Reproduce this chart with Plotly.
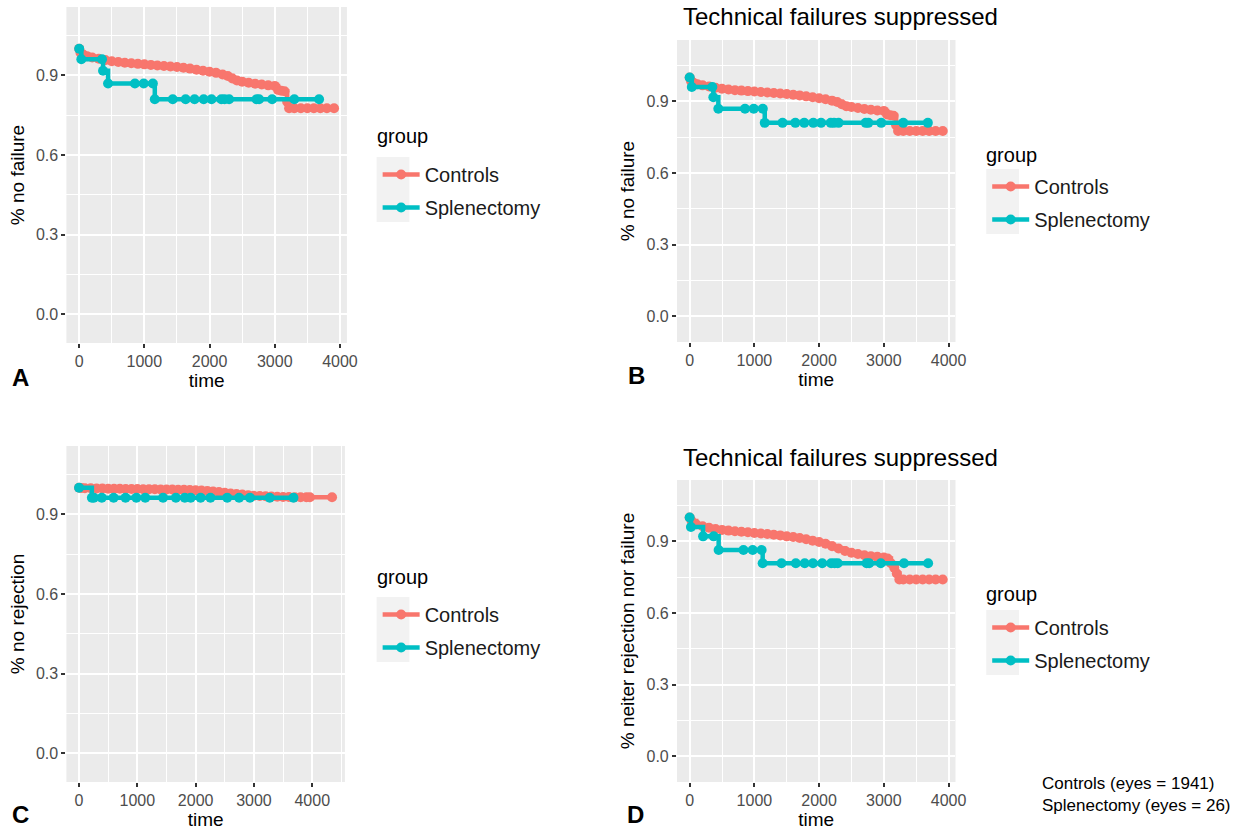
import plotly.graph_objects as go

W, H = 1247, 832

groups = ["Controls", "Splenectomy"]
colors = ["#F8766D", "#00BFC4"]
x_ticks = [0, 1000, 2000, 3000, 4000]
y_ticks = [0.0, 0.3, 0.6, 0.9]
y_tick_labels = ["0.0", "0.3", "0.6", "0.9"]

# Panels A & B: % no failure  (time, survival)
ctrl_fail = [(0, 1.0), (20, 0.985), (60, 0.978), (120, 0.972), (200, 0.967), (300, 0.962),
             (400, 0.957), (500, 0.953), (600, 0.950), (700, 0.947), (800, 0.945), (900, 0.943),
             (1000, 0.941), (1100, 0.939), (1200, 0.937), (1300, 0.935), (1400, 0.933),
             (1500, 0.931), (1600, 0.928), (1700, 0.925), (1800, 0.921), (1900, 0.917),
             (2000, 0.913), (2100, 0.909), (2200, 0.903), (2280, 0.897), (2350, 0.888),
             (2420, 0.880), (2500, 0.876), (2600, 0.872), (2700, 0.868), (2800, 0.865),
             (2900, 0.862), (3000, 0.860), (3050, 0.845), (3100, 0.842), (3150, 0.840),
             (3190, 0.800), (3220, 0.776), (3300, 0.776), (3400, 0.776), (3500, 0.776),
             (3600, 0.776), (3700, 0.776), (3800, 0.776), (3910, 0.776)]
splen_fail = [(0, 1.0), (33, 0.96), (350, 0.96), (366, 0.917), (443, 0.869), (855, 0.869),
              (990, 0.869), (1130, 0.869), (1160, 0.81), (1435, 0.81), (1633, 0.81),
              (1770, 0.81), (1910, 0.81), (2030, 0.81), (2180, 0.81), (2230, 0.81),
              (2300, 0.81), (2720, 0.81), (2760, 0.81), (2960, 0.81), (3300, 0.81), (3680, 0.81)]

# Panel C: % no rejection
ctrl_rej = [(0, 1.0), (40, 0.999), (100, 0.998), (200, 0.998), (300, 0.997), (400, 0.997),
            (500, 0.996), (600, 0.996), (700, 0.996), (800, 0.995), (900, 0.995), (1000, 0.995),
            (1100, 0.994), (1200, 0.994), (1300, 0.994), (1400, 0.993), (1500, 0.993),
            (1600, 0.993), (1700, 0.992), (1800, 0.992), (1900, 0.991), (2000, 0.990),
            (2100, 0.989), (2200, 0.988), (2300, 0.986), (2400, 0.984), (2500, 0.981),
            (2600, 0.978), (2700, 0.976), (2800, 0.974), (2900, 0.972), (3000, 0.970),
            (3100, 0.969), (3200, 0.968), (3300, 0.967), (3400, 0.966), (3500, 0.965),
            (3600, 0.965), (3700, 0.964), (3800, 0.964), (3900, 0.964), (3960, 0.964),
            (4340, 0.964)]
splen_rej = [(0, 1.0), (220, 0.962), (254, 0.962), (390, 0.962), (593, 0.962), (797, 0.962),
             (983, 0.962), (1136, 0.962), (1441, 0.962), (1661, 0.962), (1814, 0.962),
             (1915, 0.962), (2085, 0.962), (2254, 0.962), (2542, 0.962), (2746, 0.962),
             (2932, 0.962), (3271, 0.962), (3678, 0.962)]

# Panel D: % neither rejection nor failure
ctrl_any = [(0, 1.0), (30, 0.985), (100, 0.972), (200, 0.963), (300, 0.957), (400, 0.952),
            (500, 0.948), (600, 0.945), (700, 0.942), (800, 0.940), (900, 0.938), (1000, 0.935),
            (1100, 0.933), (1200, 0.931), (1300, 0.928), (1400, 0.925), (1500, 0.921),
            (1600, 0.918), (1700, 0.914), (1800, 0.909), (1900, 0.903), (2000, 0.897),
            (2100, 0.890), (2200, 0.880), (2300, 0.870), (2400, 0.860), (2500, 0.852),
            (2600, 0.847), (2700, 0.842), (2800, 0.838), (2900, 0.835), (3000, 0.832),
            (3060, 0.828), (3110, 0.808), (3160, 0.790), (3200, 0.765), (3240, 0.740),
            (3300, 0.740), (3400, 0.740), (3500, 0.740), (3600, 0.740), (3700, 0.740),
            (3800, 0.740), (3910, 0.740)]
splen_any = [(0, 1.0), (20, 0.96), (207, 0.921), (371, 0.921), (448, 0.864), (831, 0.864),
             (974, 0.864), (1112, 0.864), (1128, 0.808), (1419, 0.808), (1640, 0.808),
             (1778, 0.808), (1905, 0.808), (2048, 0.808), (2186, 0.808), (2238, 0.808),
             (2288, 0.808), (2733, 0.808), (2774, 0.808), (2953, 0.808), (3311, 0.808),
             (3684, 0.808)]

y_titles = ["% no failure", "% no failure", "% no rejection", "% neiter rejection nor failure"]
panel_letters = ["A", "B", "C", "D"]
panel_title = "Technical failures suppressed"
legend_title = "group"
footnote = ["Controls (eyes = 1941)", "Splenectomy (eyes = 26)"]

FONT = "Liberation Sans, Arial, sans-serif"

# panel geometry in pixels: (left, right, top, bottom)
boxes = [(67, 350, 7, 343), (683, 964, 40, 342), (67, 348, 446, 782), (683, 964, 480, 782)]
x_ranges = [[-196, 4107], [-196, 4107], [-217, 4561], [-196, 4107]]
y_range = [-0.108, 1.157]
# legend key background boxes (left, right, top, bottom) in pixels
key_bg = [(380, 413, 157, 222), (995, 1028, 169, 234), (380, 413, 597, 662), (995, 1028, 610, 675)]
group_title_y = [136, 155, 577, 594]

panel_data = [(ctrl_fail, splen_fail), (ctrl_fail, splen_fail), (ctrl_rej, splen_rej), (ctrl_any, splen_any)]

fig = go.Figure()
for i, (c_data, s_data) in enumerate(panel_data):
    sfx = "" if i == 0 else str(i + 1)
    leg = "legend" + sfx
    for g, col, data in zip(groups, colors, (c_data, s_data)):
        fig.add_trace(go.Scatter(
            x=[p[0] for p in data], y=[p[1] for p in data],
            mode="lines+markers", line=dict(color=col, width=4.5, shape="hv"),
            marker=dict(color=col, size=10), name=g,
            xaxis="x" + sfx, yaxis="y" + sfx, legend=leg,
            legendgroup=f"{leg}_{g}", showlegend=True))

layout = dict(width=W, height=H, margin=dict(l=0, r=0, t=0, b=0),
              paper_bgcolor="white", plot_bgcolor="#EBEBEB",
              font=dict(family=FONT, color="black"), shapes=[], annotations=[])

for i, (l, r, t, b) in enumerate(boxes):
    sfx = "" if i == 0 else str(i + 1)
    layout["xaxis" + sfx] = dict(
        domain=[l / W, r / W], range=x_ranges[i], anchor="y" + sfx,
        tickmode="array", tickvals=x_ticks, ticks="outside", ticklen=4, tickwidth=1.5,
        tickcolor="#333333", tickfont=dict(size=16, color="#4D4D4D", family=FONT),
        showgrid=True, gridcolor="white", gridwidth=2, zeroline=False, showline=False,
        minor=dict(tickmode="linear", tick0=0, dtick=500, showgrid=True, gridcolor="white", gridwidth=1),
        title=dict(text="time", font=dict(size=19, color="black", family=FONT), standoff=4))
    layout["yaxis" + sfx] = dict(
        domain=[1 - b / H, 1 - t / H], range=y_range, anchor="x" + sfx,
        tickmode="array", tickvals=y_ticks, ticktext=y_tick_labels, ticks="outside", ticklen=4,
        tickwidth=1.5, tickcolor="#333333", tickfont=dict(size=16, color="#4D4D4D", family=FONT),
        showgrid=True, gridcolor="white", gridwidth=2, zeroline=False, showline=False,
        minor=dict(tickmode="linear", tick0=0, dtick=0.15, showgrid=True, gridcolor="white", gridwidth=1),
        title=dict(text=y_titles[i], font=dict(size=19, color="black", family=FONT), standoff=6))
    kx0, kx1, ky0, ky1 = key_bg[i]
    layout["legend" + sfx] = dict(
        x=(kx0 + 1) / W, y=1 - (ky0 - 2) / H, xanchor="left", yanchor="top",
        bgcolor="rgba(0,0,0,0)", font=dict(size=20, family=FONT, color="#1A1A1A"),
        tracegroupgap=4, itemwidth=37)
    layout["annotations"].append(dict(text=legend_title, xref="paper", yref="paper",
                                      x=(kx0 - 2) / W, y=1 - group_title_y[i] / H,
                                      xanchor="left", yanchor="middle", showarrow=False,
                                      font=dict(size=20, color="black", family=FONT)))
    layout["shapes"].append(dict(type="rect", xref="paper", yref="paper", layer="below",
                                 x0=kx0 / W, x1=kx1 / W, y0=1 - ky1 / H, y1=1 - ky0 / H,
                                 fillcolor="#F2F2F2", line=dict(width=0)))

# panel titles for B and D
for (l, r, t, b) in (boxes[1], boxes[3]):
    layout["annotations"].append(dict(text=panel_title, xref="paper", yref="paper",
                                      x=(l + 4) / W, y=1 - (t - 23) / H, xanchor="left", yanchor="middle",
                                      showarrow=False, font=dict(size=24, color="black", family=FONT)))

letter_pos = [(10, 377), (632, 376), (10, 814), (631, 814)]
for letter, (x, y) in zip(panel_letters, letter_pos):
    layout["annotations"].append(dict(text=f"<b>{letter}</b>", xref="paper", yref="paper",
                                      x=x / W, y=1 - y / H, xanchor="left", yanchor="middle",
                                      showarrow=False, font=dict(size=24, color="black", family=FONT)))

layout["annotations"].append(dict(text="<br>".join(footnote), xref="paper", yref="paper",
                                  x=1049 / W, y=1 - 794 / H, xanchor="left", yanchor="middle",
                                  align="left", showarrow=False,
                                  font=dict(size=17, color="black", family=FONT)))

fig.update_layout(**layout)
fig.write_html("out.html", config={"displayModeBar": False},
               post_script="document.body.style.margin='0px';document.body.style.overflow='hidden';")
